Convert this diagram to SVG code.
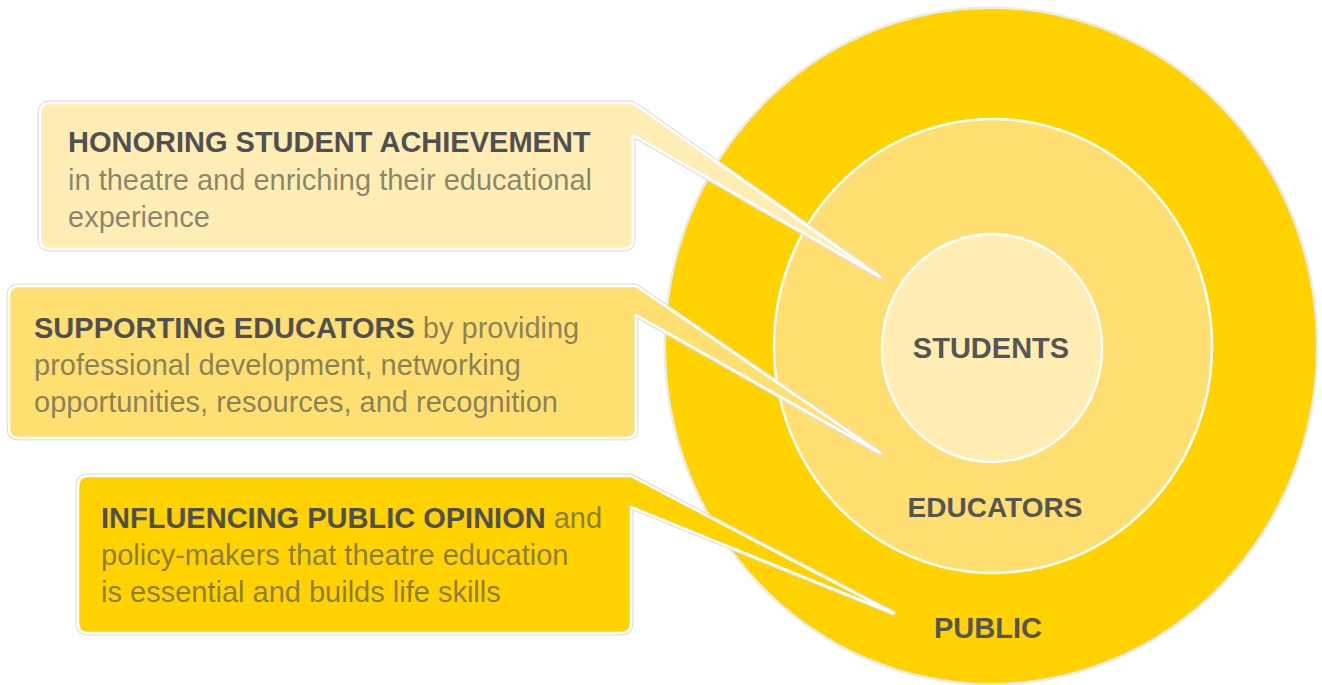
<svg xmlns="http://www.w3.org/2000/svg" width="1322" height="685" viewBox="0 0 1322 685">
<style>
.ring{stroke:#ffffff;stroke-width:2.5}
.shadow{fill:none;stroke:#e0e0e0;stroke-width:5;stroke-linejoin:round}
.edge{stroke:#ffffff;stroke-width:2.5;stroke-linejoin:round}
.t{font-family:"Liberation Sans",Arial,Helvetica,sans-serif;font-size:29px}
.b{font-weight:bold;fill:#505052}
.r{fill:#5f5d50;fill-opacity:0.72}
.lbl{font-family:"Liberation Sans",Arial,Helvetica,sans-serif;font-weight:bold;fill:#555555;text-anchor:middle}
</style>
<rect width="1322" height="685" fill="#ffffff"/>
<g id="circles">
<g id="public">
<ellipse cx="991" cy="346" rx="326" ry="338" fill="none" stroke="#ebebeb" stroke-width="3"/>
<ellipse cx="991" cy="346" rx="325" ry="337" fill="#FFD200"/>
<text class="lbl" x="988" y="638" font-size="29">PUBLIC</text>
</g>
<g id="educators">
<ellipse class="ring" cx="993" cy="346" rx="219" ry="227" fill="#FFDF72"/>
<text class="lbl" x="995" y="517" font-size="28">EDUCATORS</text>
</g>
<g id="students">
<ellipse class="ring" cx="992" cy="348" rx="110" ry="114" fill="#FFEDB3"/>
<text class="lbl" x="991" y="358" font-size="29">STUDENTS</text>
</g>
</g>
<g id="connectors">
<path class="shadow" d="M50,103 L633,103 L880,277 L633,135 L633,239 Q633,249 623,249 L50,249 Q40,249 40,239 L40,113 Q40,103 50,103 Z"/>
<path class="shadow" d="M19,286 L636,286 L880,453 L636,315 L636,428 Q636,438 626,438 L19,438 Q9,438 9,428 L9,296 Q9,286 19,286 Z"/>
<path class="shadow" d="M88,476 L631,476 L893,613 L631,507 L631,623 Q631,633 621,633 L88,633 Q78,633 78,623 L78,486 Q78,476 88,476 Z"/>
</g>
<g id="box1">
<path class="edge" fill="#FEEEB5" d="M50,103 L633,103 L880,277 L633,135 L633,239 Q633,249 623,249 L50,249 Q40,249 40,239 L40,113 Q40,103 50,103 Z"/>
<text class="t b" x="68" y="152">HONORING STUDENT ACHIEVEMENT</text>
<text class="t r" x="68" y="190">in theatre and enriching their educational</text>
<text class="t r" x="68" y="227">experience</text>
</g>
<g id="box2">
<path class="edge" fill="#FEDF72" d="M19,286 L636,286 L880,453 L636,315 L636,428 Q636,438 626,438 L19,438 Q9,438 9,428 L9,296 Q9,286 19,286 Z"/>
<text class="t" x="34" y="338"><tspan class="b">SUPPORTING EDUCATORS</tspan><tspan class="r"> by providing</tspan></text>
<text class="t r" x="34" y="375">professional development, networking</text>
<text class="t r" x="34" y="412">opportunities, resources, and recognition</text>
</g>
<g id="box3">
<path class="edge" fill="#FFD200" d="M88,476 L631,476 L893,613 L631,507 L631,623 Q631,633 621,633 L88,633 Q78,633 78,623 L78,486 Q78,476 88,476 Z"/>
<text class="t" x="101" y="528"><tspan class="b">INFLUENCING PUBLIC OPINION</tspan><tspan class="r"> and</tspan></text>
<text class="t r" x="101" y="565">policy-makers that theatre education</text>
<text class="t r" x="101" y="602">is essential and builds life skills</text>
</g>
</svg>
